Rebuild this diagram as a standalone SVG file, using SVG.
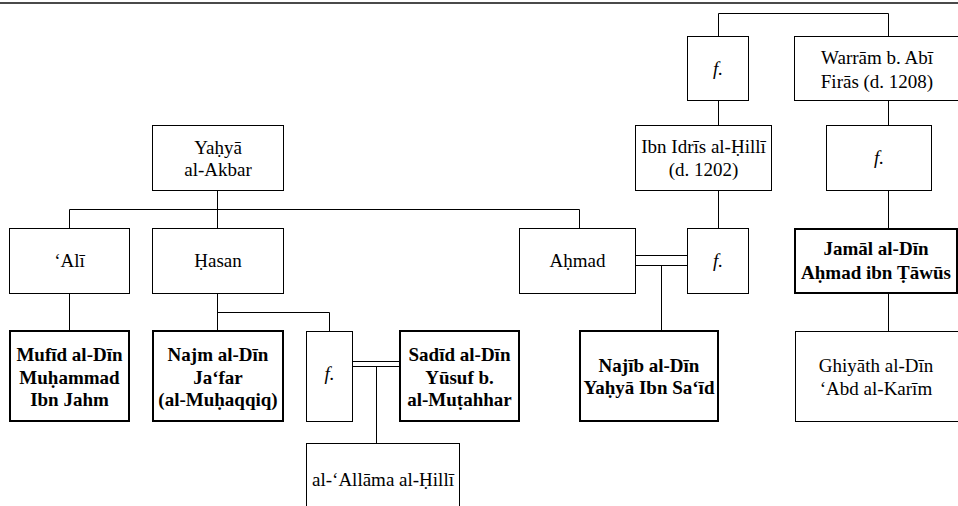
<svg xmlns="http://www.w3.org/2000/svg" width="958" height="506" viewBox="0 0 958 506">
<style>
.b{fill:#fff;stroke:#000;stroke-width:1}
.t{fill:#fff;stroke:#000;stroke-width:2}
.c{fill:none;stroke:#000;stroke-width:1}
text{font-family:"Liberation Serif","Times New Roman",serif;font-size:19px;fill:#000;text-anchor:middle}
.bd{font-weight:bold}
.it{font-style:italic}
</style>
<rect x="0" y="2" width="958" height="2" fill="#4a4a4a"/>
<g id="connectors">
<path class="c" d="M718.5,36.5V13.5H888.5V36.5"/>
<path class="c" d="M718.5,100.5V125.5"/>
<path class="c" d="M888.5,100.5V125.5"/>
<path class="c" d="M718.5,190.5V228.5"/>
<path class="c" d="M888.5,190.5V228"/>
<path class="c" d="M888.5,293V331.5"/>
<path class="c" d="M217.5,190.5V228.5"/>
<path class="c" d="M69.5,228.5V209.5H579.5V228.5"/>
<path class="c" d="M69.5,293.5V331"/>
<path class="c" d="M217.5,293.5V331"/>
<path class="c" d="M217.5,312.5H329.5V331.5"/>
<path class="c" d="M352.5,361.5H400M352.5,366.5H400"/>
<path class="c" d="M376.5,366.5V443.5"/>
<path class="c" d="M635.5,255.5H687.5M635.5,265.5H687.5"/>
<path class="c" d="M661.5,265.5V331"/>
</g>
<g id="f1"><rect class="b" x="687.5" y="36.5" width="61" height="64"/><text class="it" x="718" y="75">f.</text></g>
<g id="warram"><rect class="b" x="794.5" y="36.5" width="170" height="64"/><text x="877" y="64">Warrām b. Abī</text><text x="877" y="88">Firās (d. 1208)</text></g>
<g id="ibnidris"><rect class="b" x="635.5" y="125.5" width="136" height="65"/><text x="703.5" y="153">Ibn Idrīs al-Ḥillī</text><text x="703.5" y="176">(d. 1202)</text></g>
<g id="f2"><rect class="b" x="826.5" y="125.5" width="105" height="65"/><text class="it" x="879" y="164">f.</text></g>
<g id="yahya"><rect class="b" x="152.5" y="125.5" width="131" height="65"/><text x="218" y="154">Yaḥyā</text><text x="218" y="176">al-Akbar</text></g>
<g id="ali"><rect class="b" x="9.5" y="228.5" width="120" height="65"/><text x="69.5" y="267">‘Alī</text></g>
<g id="hasan"><rect class="b" x="152.5" y="228.5" width="131" height="65"/><text x="218" y="267">Ḥasan</text></g>
<g id="ahmad"><rect class="b" x="519.5" y="228.5" width="116" height="65"/><text x="577.5" y="267">Aḥmad</text></g>
<g id="f3"><rect class="b" x="687.5" y="228.5" width="61" height="65"/><text class="it" x="718" y="267">f.</text></g>
<g id="jamal"><rect class="t" x="795" y="229" width="162" height="64"/><text class="bd" x="876" y="255">Jamāl al-Dīn</text><text class="bd" x="876" y="279">Aḥmad ibn Ṭāwūs</text></g>
<g id="mufid"><rect class="t" x="10" y="331" width="119" height="90"/><text class="bd" x="69.5" y="361">Mufīd al-Dīn</text><text class="bd" x="69.5" y="384">Muḥammad</text><text class="bd" x="69.5" y="406">Ibn Jahm</text></g>
<g id="najm"><rect class="t" x="153" y="331" width="130" height="90"/><text class="bd" x="218" y="361">Najm al-Dīn</text><text class="bd" x="218" y="384">Ja‘far</text><text class="bd" x="218" y="406">(al-Muḥaqqiq)</text></g>
<g id="f4"><rect class="b" x="306.5" y="331.5" width="46" height="90"/><text class="it" x="329.5" y="380">f.</text></g>
<g id="sadid"><rect class="t" x="400" y="331" width="119" height="90"/><text class="bd" x="459.5" y="361">Sadīd al-Dīn</text><text class="bd" x="459.5" y="384">Yūsuf b.</text><text class="bd" x="459.5" y="406">al-Muṭahhar</text></g>
<g id="najib"><rect class="t" x="580" y="331" width="138" height="90"/><text class="bd" x="649" y="372">Najīb al-Dīn</text><text class="bd" x="649" y="394">Yaḥyā Ibn Sa‘īd</text></g>
<g id="ghiyath"><rect class="b" x="795.5" y="331.5" width="170" height="90"/><text x="876" y="372">Ghiyāth al-Dīn</text><text x="876" y="395">‘Abd al-Karīm</text></g>
<g id="allama"><rect class="b" x="306.5" y="443.5" width="153" height="80"/><text x="383" y="486">al-‘Allāma al-Ḥillī</text></g>
</svg>
